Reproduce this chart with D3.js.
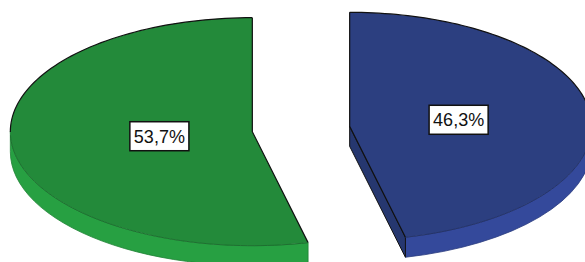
<!doctype html>
<html lang="de">
  <head>
    <meta charset="UTF-8" />
    <title>Kreisdiagramm</title>
    <script src="https://d3js.org/d3.v7.min.js"></script>
    <style>
      body {
        margin: 0;
        padding: 0;
        background: #fff;
        font-family: Arial, 'Liberation Sans', sans-serif;
      }
      .label-box {
        fill: #fff;
        stroke: #111;
        stroke-width: 1.5px;
      }
      .label-text {
        font-size: 18px;
        fill: #111;
      }
    </style>
  </head>
  <body>
    <svg id="pie" width="585" height="262"></svg>

    <script>
      // slices in clockwise order starting at 12 o'clock
      const categories = ['Kategorie B', 'Kategorie A'];
      const values = [46.3, 53.7];
      const labels = ['46,3%', '53,7%'];
      const topColors = ['#2c3f80', '#238a3a'];
      const sideColors = ['#34499b', '#27a042'];
      const cutColors = ['#26376f', '#1e7532'];

      const cx = 301;
      const cy = 129;
      const rx = 242;
      const ry = 114;
      const depth = 20;
      const explode = 49;

      const svg = d3.select('#pie');

      const topColor = d3.scaleOrdinal().domain(categories).range(topColors);
      const sideColor = d3.scaleOrdinal().domain(categories).range(sideColors);
      const cutColor = d3.scaleOrdinal().domain(categories).range(cutColors);

      const pie = d3.pie().sort(null).value((d, i) => values[i]);
      const arcs = pie(categories);

      arcs.forEach(function (a) {
        const mid = (a.startAngle + a.endAngle) / 2;
        const ox = cx + Math.sin(mid) * explode;
        const oy = cy - Math.cos(mid) * explode * (ry / rx);

        // point on the top ellipse at angle t (clockwise from 12 o'clock)
        const P = (t, dz = 0) => [
          ox + rx * Math.sin(t),
          oy - ry * Math.cos(t) + dz,
        ];
        const pt = (p) => p[0] + ',' + p[1];
        const arcTo = (t0, t1, dz, sweep) => {
          const large = Math.abs(t1 - t0) > Math.PI ? 1 : 0;
          return `A${rx},${ry} 0 ${large} ${sweep} ${pt(P(t1, dz))}`;
        };

        const g = svg.append('g').attr('class', 'slice');

        // visible outer rim (front half of the ellipse)
        const r0 = Math.max(a.startAngle, Math.PI / 2);
        const r1 = Math.min(a.endAngle, (3 * Math.PI) / 2);
        if (r1 > r0) {
          g.append('path')
            .attr(
              'd',
              `M${pt(P(r0))}` +
                arcTo(r0, r1, 0, 1) +
                `L${pt(P(r1, depth))}` +
                arcTo(r1, r0, depth, 0) +
                'Z',
            )
            .attr('fill', sideColor(a.data))
            .attr('stroke', d3.color(sideColor(a.data)).darker(0.6))
            .attr('stroke-width', 0.8);
        }

        // cut walls that face the viewer
        const wall = (t) =>
          `M${ox},${oy}L${pt(P(t))}L${pt(P(t, depth))}L${ox},${oy + depth}Z`;
        if (Math.sin(a.endAngle) > 0.001 && Math.cos(a.endAngle) < 0) {
          g.append('path')
            .attr('d', wall(a.endAngle))
            .attr('fill', cutColor(a.data))
            .attr('stroke', '#111')
            .attr('stroke-width', 1);
        }
        if (Math.sin(a.startAngle) < -0.001 && Math.cos(a.startAngle) < 0) {
          g.append('path')
            .attr('d', wall(a.startAngle))
            .attr('fill', cutColor(a.data))
            .attr('stroke', '#111')
            .attr('stroke-width', 1);
        }

        // top face
        g.append('path')
          .attr(
            'd',
            `M${ox},${oy}L${pt(P(a.startAngle))}` +
              arcTo(a.startAngle, a.endAngle, 0, 1) +
              'Z',
          )
          .attr('fill', topColor(a.data))
          .attr('stroke', 'none');

        // outlines: radial edges and back arc in black, front arc softer
        g.append('path')
          .attr(
            'd',
            `M${pt(P(a.startAngle))}L${ox},${oy}L${pt(P(a.endAngle))}`,
          )
          .attr('fill', 'none')
          .attr('stroke', '#111')
          .attr('stroke-width', 1.2);

        const steps = 120;
        const back = [];
        const front = [];
        for (let i = 0; i <= steps; i++) {
          const t =
            a.startAngle + ((a.endAngle - a.startAngle) * i) / steps;
          (Math.cos(t) >= -0.02 ? back : front).push(P(t));
        }
        const line = d3.line();
        if (back.length > 1)
          g.append('path')
            .attr('d', line(back))
            .attr('fill', 'none')
            .attr('stroke', '#111')
            .attr('stroke-width', 1.2);
        if (front.length > 1)
          g.append('path')
            .attr('d', line(front))
            .attr('fill', 'none')
            .attr('stroke', d3.color(topColor(a.data)).darker(0.8))
            .attr('stroke-width', 0.8);

        // value label
        const lx = ox + Math.sin(mid) * rx * 0.42 + 8;
        const ly = oy - Math.cos(mid) * ry * 0.42 - 1;
        const lab = g.append('g').attr('transform', `translate(${lx},${ly})`);
        const txt = lab
          .append('text')
          .attr('class', 'label-text')
          .attr('text-anchor', 'middle')
          .attr('dy', '0.36em')
          .text(labels[a.index]);
        const bb = txt.node().getBBox();
        lab
          .insert('rect', 'text')
          .attr('class', 'label-box')
          .attr('x', -bb.width / 2 - 4)
          .attr('y', -14.5)
          .attr('width', bb.width + 8)
          .attr('height', 29);
      });
    </script>
  </body>
</html>
